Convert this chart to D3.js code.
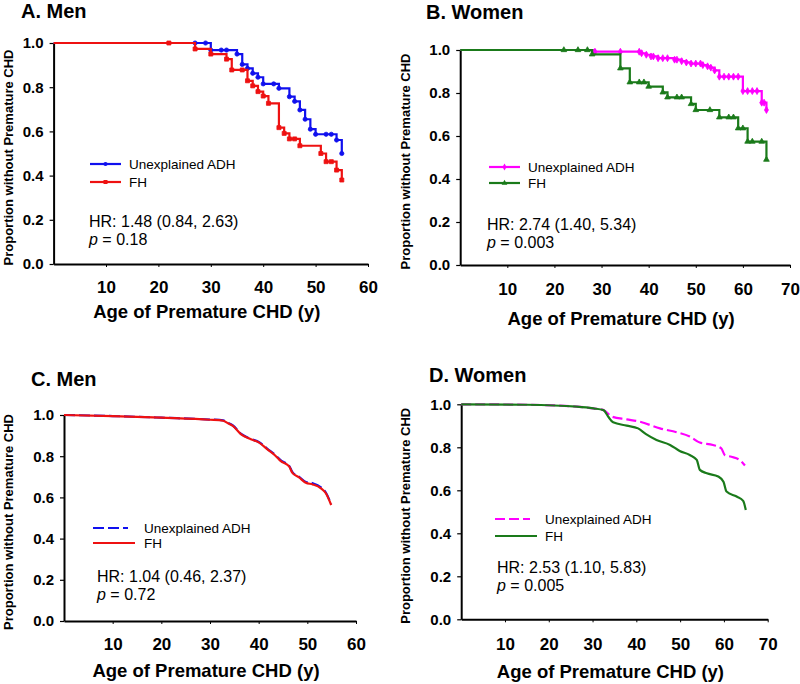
<!DOCTYPE html>
<html><head><meta charset="utf-8">
<script src="https://cdn.jsdelivr.net/npm/d3@7"></script>
<style>
body{margin:0;background:#fff;}
svg{display:block;font-family:"Liberation Sans",Arial,sans-serif;}
</style></head><body>
<svg id="chart" width="800" height="684"></svg>
<script>
// ---------------- DATA ----------------
const panelTitles = ["A. Men", "B. Women", "C. Men", "D. Women"];
const seriesNames = ["Unexplained ADH", "FH"];
const hrTexts = ["HR: 1.48 (0.84, 2.63)", "HR: 2.74 (1.40, 5.34)", "HR: 1.04 (0.46, 2.37)", "HR: 2.53 (1.10, 5.83)"];
const pTexts = ["0.18", "0.003", "0.72", "0.005"];
const yTicks = [0, 0.2, 0.4, 0.6, 0.8, 1.0];
const xTicksMen = [10, 20, 30, 40, 50, 60];
const xTicksWomen = [10, 20, 30, 40, 50, 60, 70];

// Panel A (Kaplan-Meier steps: [age, proportion])
const menAdhKM = [[0,1],[30,0.968],[35,0.950],[36,0.903],[37,0.885],[38,0.863],[39,0.845],[40,0.815],[43,0.795],[45,0.757],[46,0.736],[47,0.697],[48,0.655],[49,0.610],[50,0.587],[54,0.561],[55,0.500]];
const menAdhCensor = [[27,1],[29,1],[32,0.968],[33,0.968],[42,0.815],[52,0.587],[53,0.587]];
const menFhKM = [[0,1],[27,0.973],[30,0.950],[33,0.927],[34,0.878],[37,0.829],[38,0.806],[39,0.780],[40,0.760],[41,0.727],[43,0.617],[44,0.591],[45,0.566],[47,0.535],[51,0.500],[52,0.463],[54,0.425],[55,0.380]];
const menFhCensor = [[22,1],[36,0.878],[46,0.566],[53,0.463]];

// Panel B
const womenAdhKM = [[0,1],[28.6,0.992],[38.5,0.985],[39.5,0.978],[40.5,0.970],[42,0.962],[45.5,0.955],[47,0.948],[48,0.942],[49,0.937],[51.5,0.930],[52.5,0.924],[53.2,0.918],[54,0.905],[55,0.876],[60,0.809],[64,0.755],[65,0.721]];
const womenAdhCensor = [[34,0.992],[38,0.992],[41,0.970],[43,0.962],[44,0.962],[46,0.955],[50,0.937],[51,0.937],[56,0.876],[57,0.876],[58,0.876],[59,0.876],[61,0.809],[62,0.809],[63,0.809],[64.5,0.755]];
const womenFhKM = [[0,1],[28,0.980],[34,0.915],[36,0.850],[40,0.830],[43,0.803],[44,0.780],[49,0.749],[50,0.721],[55,0.687],[59,0.636],[61,0.574],[65,0.490]];
const womenFhCensor = [[22,1],[25,1],[27,1],[38,0.850],[39,0.850],[46,0.780],[47,0.780],[53,0.721],[57,0.687],[58,0.687],[60,0.636],[62,0.574],[64,0.574]];

// Panel C (adjusted curves)
const menAdhAdj = [[0,1.0],[10,0.995],[20,0.987],[30,0.978],[32.7,0.974],[33.7,0.962],[34.7,0.949],[36.4,0.908],[38.4,0.884],[40.1,0.868],[41.8,0.836],[43.5,0.804],[44.5,0.781],[46.3,0.752],[46.9,0.724],[48.3,0.700],[49.7,0.675],[51.1,0.669],[52.8,0.649],[53.8,0.624],[54.9,0.566]];
const menFhAdj = [[0,1.0],[10,0.995],[20,0.987],[30,0.977],[32.7,0.972],[33.7,0.960],[34.7,0.947],[36.4,0.906],[38.4,0.882],[40.1,0.866],[41.8,0.833],[43.5,0.801],[44.5,0.777],[46.3,0.749],[46.9,0.720],[48.3,0.697],[49.7,0.671],[51.1,0.663],[52.8,0.644],[53.8,0.620],[54.9,0.563]];

// Panel D (adjusted curves)
const womenAdhAdj = [[0,1.0],[14.9,0.998],[26.4,0.989],[30.2,0.981],[32.5,0.973],[34.5,0.942],[37.8,0.930],[40.8,0.919],[45.4,0.888],[49.2,0.870],[52.2,0.850],[54.5,0.822],[57.5,0.811],[59.4,0.795],[60.2,0.764],[61.7,0.756],[63.6,0.741],[64.8,0.715]];
const womenFhAdj = [[0,1.0],[14.9,0.998],[26.4,0.989],[30.2,0.981],[32.5,0.973],[33.6,0.942],[34.7,0.916],[37.8,0.901],[40.4,0.888],[42.3,0.860],[44.6,0.834],[47.7,0.811],[49.9,0.783],[52.2,0.764],[53.8,0.741],[54.5,0.695],[56.1,0.679],[58.7,0.664],[59.9,0.640],[60.6,0.594],[62.9,0.571],[64.4,0.551],[65.0,0.508]];

// ---------------- COLORS ----------------
const BLUE = "#1010ee", RED = "#ee1111", MAGENTA = "#ff00ff", GREEN = "#1a7a1a";

// ---------------- LAYOUT ----------------
const panels = [
  {title: panelTitles[0], tx: 21, ty: 18, x0: 53.6, x1: 368, xmax: 60, yTop: 43, yBot: 264, xTicks: xTicksMen,
   yTitleX: 13, tickLabY: 29, axTitleY: 318,
   legX: 90, legY: [164, 182], legTextX: 129, hrX: 89, hrY: 227, pY: 245, kind: "km",
   series: [
     {name: seriesNames[0], color: BLUE, data: menAdhKM, cens: menAdhCensor, sym: "circle"},
     {name: seriesNames[1], color: RED, data: menFhKM, cens: menFhCensor, sym: "square"}]},
  {title: panelTitles[1], tx: 426, ty: 19, x0: 460.2, x1: 790, xmax: 70, yTop: 50, yBot: 265, xTicks: xTicksWomen,
   yTitleX: 410, tickLabY: 30, axTitleY: 325,
   legX: 489, legY: [167, 183], legTextX: 528, hrX: 487, hrY: 230, pY: 248, kind: "km",
   series: [
     {name: seriesNames[0], color: MAGENTA, data: womenAdhKM, cens: womenAdhCensor, sym: "diamond"},
     {name: seriesNames[1], color: GREEN, data: womenFhKM, cens: womenFhCensor, sym: "triangle"}]},
  {title: panelTitles[2], tx: 31, ty: 386, x0: 64, x1: 356, xmax: 60, yTop: 415, yBot: 621, xTicks: xTicksMen,
   yTitleX: 13, tickLabY: 29, axTitleY: 677,
   legX: 93, legY: [528, 543], legTextX: 144, hrX: 97, hrY: 582, pY: 600, kind: "adj",
   series: [
     {name: seriesNames[0], color: BLUE, data: menAdhAdj, dash: "11,4"},
     {name: seriesNames[1], color: RED, data: menFhAdj}]},
  {title: panelTitles[3], tx: 429, ty: 382, x0: 461.2, x1: 767.7, xmax: 70, yTop: 404.3, yBot: 619.3, xTicks: xTicksWomen,
   yTitleX: 410, tickLabY: 31, axTitleY: 678,
   legX: 495, legY: [519, 536], legTextX: 545, hrX: 497, hrY: 573, pY: 591, kind: "adj",
   series: [
     {name: seriesNames[0], color: MAGENTA, data: womenAdhAdj, dash: "10,4"},
     {name: seriesNames[1], color: GREEN, data: womenFhAdj}]}
];

const svg = d3.select("#chart");

function symbolPath(sym){
  const t = {circle: d3.symbolCircle, square: d3.symbolSquare, diamond: d3.symbolDiamond, triangle: d3.symbolTriangle}[sym];
  return d3.symbol().type(t).size(sym === "square" ? 16 : 14)();
}

panels.forEach(p => {
  const g = svg.append("g");
  const x = d3.scaleLinear().domain([0, p.xmax]).range([p.x0, p.x1]);
  const y = d3.scaleLinear().domain([0, 1]).range([p.yBot, p.yTop]);

  // title
  g.append("text").attr("x", p.tx).attr("y", p.ty).attr("font-size", 20).attr("font-weight", "bold").text(p.title);

  // y axis
  const ya = g.append("g").attr("transform", `translate(${p.x0},0)`)
    .call(d3.axisLeft(y).tickValues(yTicks).tickFormat(d3.format(".1f")).tickSize(4).tickSizeOuter(0));
  ya.select(".domain").attr("stroke", "#000").attr("stroke-width", 2);
  ya.selectAll(".tick line").attr("stroke-width", 1.2);
  ya.selectAll("text").attr("x", -10).attr("font-size", 15).attr("font-weight", "bold").attr("font-family", "Liberation Sans, Arial, sans-serif").attr("fill", "#000");

  // x axis
  const xa = g.append("g").attr("transform", `translate(0,${p.yBot})`)
    .call(d3.axisBottom(x).tickValues(p.xTicks).tickSize(3).tickSizeOuter(0));
  xa.select(".domain").attr("stroke", "#000").attr("stroke-width", 2);
  xa.selectAll(".tick line").attr("stroke-width", 1);
  xa.selectAll("text").attr("y", p.tickLabY).attr("dy", 0).attr("font-size", 17).attr("font-weight", "bold").attr("font-family", "Liberation Sans, Arial, sans-serif").attr("fill", "#000");

  // axis titles
  g.append("text").attr("x", (p.x0 + p.x1) / 2 - 4).attr("y", p.axTitleY).attr("text-anchor", "middle")
    .attr("font-size", 18.5).attr("font-weight", "bold").text("Age of Premature CHD (y)");
  g.append("text").attr("transform", `translate(${p.yTitleX},${(p.yTop + p.yBot) / 2 + 4}) rotate(-90)`)
    .attr("text-anchor", "middle").attr("font-size", 13).attr("font-weight", "bold").text("Proportion without Premature CHD");

  // curves
  const line = d3.line().x(d => x(d[0])).y(d => y(d[1]))
    .curve(p.kind === "km" ? d3.curveStepAfter : d3.curveMonotoneX);
  p.series.forEach(s => {
    g.append("path").datum(s.data).attr("d", line).attr("fill", "none").attr("stroke", s.color)
      .attr("stroke-width", 2.2).attr("stroke-dasharray", s.dash || null);
    if (p.kind === "km") {
      const pts = s.data.slice(1).concat(s.cens);
      g.selectAll(null).data(pts).enter().append("path")
        .attr("d", symbolPath(s.sym)).attr("fill", s.color).attr("stroke", s.color).attr("stroke-width", 0.8)
        .attr("transform", d => `translate(${x(d[0])},${y(d[1])})`);
    }
  });

  // legend
  p.series.forEach((s, i) => {
    const ly = p.legY[i];
    const len = p.kind === "km" ? 31 : (s.dash ? 35 : 42);
    g.append("line").attr("x1", p.legX).attr("x2", p.legX + len).attr("y1", ly).attr("y2", ly)
      .attr("stroke", s.color).attr("stroke-width", 2.2).attr("stroke-dasharray", s.dash || null);
    if (p.kind === "km") {
      g.append("path").attr("d", symbolPath(s.sym)).attr("fill", s.color)
        .attr("transform", `translate(${p.legX + len / 2},${ly})`);
    }
    g.append("text").attr("x", p.legTextX).attr("y", ly + 5).attr("font-size", 13.5).text(s.name);
  });

  // HR text
  g.append("text").attr("x", p.hrX).attr("y", p.hrY).attr("font-size", 16).text(hrTexts[panels.indexOf(p)]);
  const pt = g.append("text").attr("x", p.hrX).attr("y", p.pY).attr("font-size", 16);
  pt.append("tspan").attr("font-style", "italic").text("p");
  pt.append("tspan").text(" = " + pTexts[panels.indexOf(p)]);
});
</script>
</body></html>
